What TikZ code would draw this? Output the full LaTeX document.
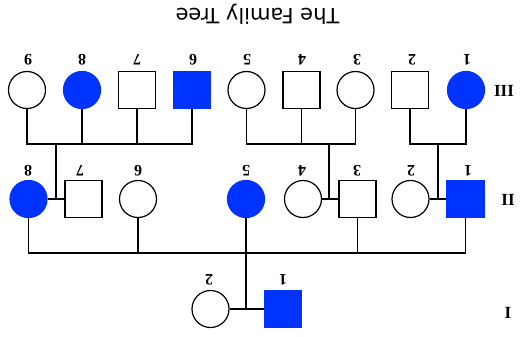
\documentclass[tikz,border=0pt]{standalone}
\usepackage{fontspec}
\setmainfont{Liberation Serif}
\newfontfamily\titlefont{DejaVu Sans}
\definecolor{pblue}{RGB}{0,51,255}
\begin{document}
\begin{tikzpicture}[x=1pt,y=-1pt,line width=1.2pt,
  fem/.style={circle,draw,minimum size=37pt,inner sep=0pt},
  mal/.style={rectangle,draw,minimum size=37pt,inner sep=0pt},
  aff/.style={fill=pblue,draw=pblue},
  num/.style={font=\bfseries\fontsize{16}{16}\selectfont,rotate=180,inner sep=0pt},
  gen/.style={font=\bfseries\fontsize{17}{17}\selectfont,inner sep=0pt},
  ttl/.style={font=\titlefont\fontsize{21}{21}\selectfont,rotate=180,inner sep=0pt},
  link/.style={draw,line width=1.2pt}]
\useasboundingbox (0,0) rectangle (520,337);
\fill[white] (0,0) rectangle (520,337);

\node[ttl] (title) at (257.5,14) {The Family Tree};

% generation III
\node[fem] (c9) at (27,90) {};
\node[fem,aff] (c8) at (82,90) {};
\node[mal] (c7) at (137,90) {};
\node[mal,aff] (c6) at (192,90) {};
\node[fem] (c5) at (246.5,90) {};
\node[mal] (c4) at (301.5,90) {};
\node[fem] (c3) at (355.5,90) {};
\node[mal] (c2) at (410,90) {};
\node[fem,aff] (c1) at (466,90) {};

% generation II
\node[fem,aff] (b8) at (28.5,199) {};
\node[mal] (b7) at (83.5,199) {};
\node[fem] (b6) at (138,199) {};
\node[fem,aff] (b5) at (246,199) {};
\node[fem] (b4) at (303,199) {};
\node[mal] (b3) at (357.5,199) {};
\node[fem] (b2) at (410.5,199) {};
\node[mal,aff] (b1) at (465.5,199) {};

% generation I
\node[fem] (a2) at (210.5,309) {};
\node[mal,aff] (a1) at (283,309) {};

% number labels
\node[num] (l9) at (28,60) {9};
\node[num] (l8) at (82,60) {8};
\node[num] (l7) at (137,60) {7};
\node[num] (l6) at (193,60) {6};
\node[num] (l5) at (247,60) {5};
\node[num] (l4) at (302,60) {4};
\node[num] (l3) at (357,60) {3};
\node[num] (l2) at (412,60) {2};
\node[num] (l1) at (467,60) {1};

\node[num] (k8) at (28,171) {8};
\node[num] (k7) at (80,171) {7};
\node[num] (k6) at (138,171) {6};
\node[num] (k5) at (246,171) {5};
\node[num] (k4) at (302,171) {4};
\node[num] (k3) at (357,171) {3};
\node[num] (k2) at (411,171) {2};
\node[num] (k1) at (468,171) {1};

\node[num] (j2) at (209,280) {2};
\node[num] (j1) at (283,280) {1};

% generation labels
\node[gen] (g3) at (504,91) {III};
\node[gen] (g2) at (508,200) {II};
\node[gen] (g1) at (508,313) {I};

% bars
\coordinate (bl) at (56,144);
\coordinate (bm) at (329,144);
\coordinate (br) at (438,144);
\coordinate (bb) at (246,253);

% left sibship
\draw[link] (c9.south) -- (c9.south |- bl) -- (c6.south |- bl) -- (c6.south);
\draw[link] (c8.south) -- (c8.south |- bl);
\draw[link] (c7.south) -- (c7.south |- bl);
\draw[link] (bl) -- (bl |- b8.east);
\draw[link] (b8.east) -- (b7.west);

% middle sibship
\draw[link] (c5.south) -- (c5.south |- bm) -- (c3.south |- bm) -- (c3.south);
\draw[link] (c4.south) -- (c4.south |- bm);
\draw[link] (bm) -- (bm |- b4.east);
\draw[link] (b4.east) -- (b3.west);

% right sibship
\draw[link] (c2.south) -- (c2.south |- br) -- (c1.south |- br) -- (c1.south);
\draw[link] (br) -- (br |- b2.east);
\draw[link] (b2.east) -- (b1.west);

% generation II sibship
\draw[link] (b8.south) -- (b8.south |- bb) -- (b1.south |- bb) -- (b1.south);
\draw[link] (b6.south) -- (b6.south |- bb);
\draw[link] (b5.south) -- (b5.south |- bb);
\draw[link] (b3.south) -- (b3.south |- bb);
\draw[link] (bb) -- (bb |- a2.east);
\draw[link] (a2.east) -- (a1.west);
\end{tikzpicture}
\end{document}
